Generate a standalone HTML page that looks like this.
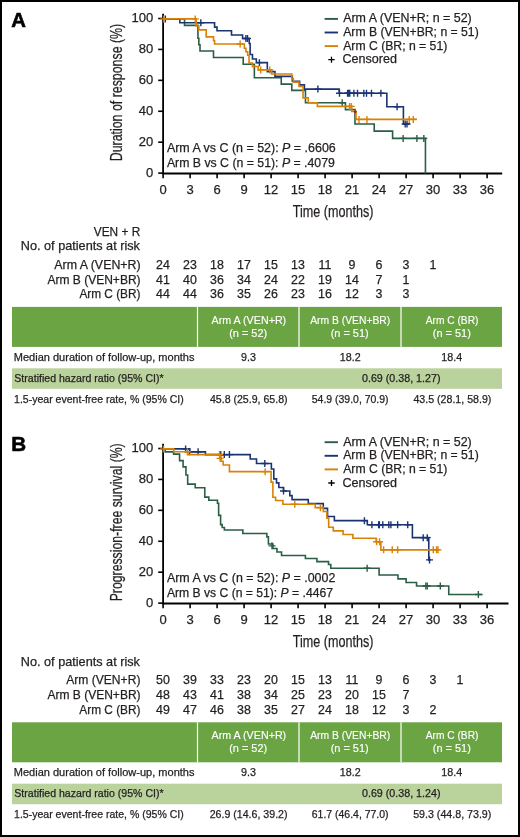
<!DOCTYPE html>
<html><head><meta charset="utf-8"><title>Figure</title>
<style>
html,body{margin:0;padding:0;background:#fff;}
body{width:520px;height:837px;overflow:hidden;}
svg{will-change:transform;display:block;font-family:"Liberation Sans", sans-serif;}
</style></head><body>
<svg width="520" height="837" viewBox="0 0 520 837" fill="#231f20">
<rect x="1" y="1" width="518" height="835" fill="#fff" stroke="#000" stroke-width="2"/>
<text x="11.20" y="27.20" font-size="20.3" stroke="#000" stroke-width="0.6" fill="#000" font-weight="bold">A</text>
<text x="11.20" y="451.30" font-size="20.6" stroke="#000" stroke-width="0.6" fill="#000" font-weight="bold">B</text>
<g transform="translate(0,0)">
<text transform="translate(122.2,161.30) rotate(-90)" font-size="16.8" stroke="#231f20" stroke-width="0.25" textLength="137.5" lengthAdjust="spacingAndGlyphs">Duration of response (%)</text>
<line x1="158.2" y1="173.10" x2="163.1" y2="173.10" stroke="#000" stroke-width="1.6"/>
<text x="153.30" y="176.70" font-size="13" stroke="#231f20" stroke-width="0.25" text-anchor="end">0</text>
<line x1="158.2" y1="142.18" x2="163.1" y2="142.18" stroke="#000" stroke-width="1.6"/>
<text x="153.30" y="145.78" font-size="13" stroke="#231f20" stroke-width="0.25" text-anchor="end">20</text>
<line x1="158.2" y1="111.26" x2="163.1" y2="111.26" stroke="#000" stroke-width="1.6"/>
<text x="153.30" y="114.86" font-size="13" stroke="#231f20" stroke-width="0.25" text-anchor="end">40</text>
<line x1="158.2" y1="80.34" x2="163.1" y2="80.34" stroke="#000" stroke-width="1.6"/>
<text x="153.30" y="83.94" font-size="13" stroke="#231f20" stroke-width="0.25" text-anchor="end">60</text>
<line x1="158.2" y1="49.42" x2="163.1" y2="49.42" stroke="#000" stroke-width="1.6"/>
<text x="153.30" y="53.02" font-size="13" stroke="#231f20" stroke-width="0.25" text-anchor="end">80</text>
<line x1="158.2" y1="18.50" x2="163.1" y2="18.50" stroke="#000" stroke-width="1.6"/>
<text x="153.30" y="22.10" font-size="13" stroke="#231f20" stroke-width="0.25" text-anchor="end">100</text>
<line x1="163.10" y1="173.5" x2="163.10" y2="178.2" stroke="#000" stroke-width="1.6"/>
<text x="163.10" y="194.40" font-size="13" stroke="#231f20" stroke-width="0.25" text-anchor="middle">0</text>
<line x1="190.10" y1="173.5" x2="190.10" y2="178.2" stroke="#000" stroke-width="1.6"/>
<text x="190.10" y="194.40" font-size="13" stroke="#231f20" stroke-width="0.25" text-anchor="middle">3</text>
<line x1="217.10" y1="173.5" x2="217.10" y2="178.2" stroke="#000" stroke-width="1.6"/>
<text x="217.10" y="194.40" font-size="13" stroke="#231f20" stroke-width="0.25" text-anchor="middle">6</text>
<line x1="244.10" y1="173.5" x2="244.10" y2="178.2" stroke="#000" stroke-width="1.6"/>
<text x="244.10" y="194.40" font-size="13" stroke="#231f20" stroke-width="0.25" text-anchor="middle">9</text>
<line x1="271.10" y1="173.5" x2="271.10" y2="178.2" stroke="#000" stroke-width="1.6"/>
<text x="271.10" y="194.40" font-size="13" stroke="#231f20" stroke-width="0.25" text-anchor="middle">12</text>
<line x1="298.10" y1="173.5" x2="298.10" y2="178.2" stroke="#000" stroke-width="1.6"/>
<text x="298.10" y="194.40" font-size="13" stroke="#231f20" stroke-width="0.25" text-anchor="middle">15</text>
<line x1="325.10" y1="173.5" x2="325.10" y2="178.2" stroke="#000" stroke-width="1.6"/>
<text x="325.10" y="194.40" font-size="13" stroke="#231f20" stroke-width="0.25" text-anchor="middle">18</text>
<line x1="352.10" y1="173.5" x2="352.10" y2="178.2" stroke="#000" stroke-width="1.6"/>
<text x="352.10" y="194.40" font-size="13" stroke="#231f20" stroke-width="0.25" text-anchor="middle">21</text>
<line x1="379.10" y1="173.5" x2="379.10" y2="178.2" stroke="#000" stroke-width="1.6"/>
<text x="379.10" y="194.40" font-size="13" stroke="#231f20" stroke-width="0.25" text-anchor="middle">24</text>
<line x1="406.10" y1="173.5" x2="406.10" y2="178.2" stroke="#000" stroke-width="1.6"/>
<text x="406.10" y="194.40" font-size="13" stroke="#231f20" stroke-width="0.25" text-anchor="middle">27</text>
<line x1="433.10" y1="173.5" x2="433.10" y2="178.2" stroke="#000" stroke-width="1.6"/>
<text x="433.10" y="194.40" font-size="13" stroke="#231f20" stroke-width="0.25" text-anchor="middle">30</text>
<line x1="460.10" y1="173.5" x2="460.10" y2="178.2" stroke="#000" stroke-width="1.6"/>
<text x="460.10" y="194.40" font-size="13" stroke="#231f20" stroke-width="0.25" text-anchor="middle">33</text>
<line x1="487.10" y1="173.5" x2="487.10" y2="178.2" stroke="#000" stroke-width="1.6"/>
<text x="487.10" y="194.40" font-size="13" stroke="#231f20" stroke-width="0.25" text-anchor="middle">36</text>
<text x="292.72" y="216.80" font-size="16.7" textLength="80.68" lengthAdjust="spacingAndGlyphs" stroke="#231f20" stroke-width="0.25">Time (months)</text>
<path d="M163.1,13.8V173.5H502.2" fill="none" stroke="#000" stroke-width="1.8"/>
<g transform="translate(0,0.4)">
<path d="M163.10,18.50H184.52V24.99H197.93V37.82H198.83V44.32H200.00V50.66H213.50V57.15H243.20V63.80H254.36V77.40H281.27V83.74H291.80V89.93H305.48V102.29H345.44V109.25H354.98V123.63H374.24V130.74H392.60V138.01H425.45V173.10" fill="none" stroke="#2a5e45" stroke-width="1.6"/>
<path d="M338.70,102.29H345.70M342.20,98.79V105.79" stroke="#2a5e45" stroke-width="1.4"/>
<path d="M399.63,138.01H406.63M403.13,134.51V141.51" stroke="#2a5e45" stroke-width="1.4"/>
<path d="M413.40,138.01H420.40M416.90,134.51V141.51" stroke="#2a5e45" stroke-width="1.4"/>
<path d="M420.33,138.01H427.33M423.83,134.51V141.51" stroke="#2a5e45" stroke-width="1.4"/>
<path d="M163.10,18.50H179.84V22.36H214.58V26.69H217.01V30.40H231.50V34.58H242.57V38.13H249.23V43.08H250.13V54.06H252.47V58.54H256.34V62.25H267.32V71.22H274.97V76.01H292.34V80.80H299.63V84.51H304.40V88.69H339.14V92.86H386.84V106.31H403.40V123.63H409.70" fill="none" stroke="#1a3473" stroke-width="1.6"/>
<path d="M161.85,18.50H168.85M165.35,15.00V22.00" stroke="#1a3473" stroke-width="1.4"/>
<path d="M197.31,22.36H204.31M200.81,18.86V25.86" stroke="#1a3473" stroke-width="1.4"/>
<path d="M242.40,38.13H249.40M245.90,34.63V41.63" stroke="#1a3473" stroke-width="1.4"/>
<path d="M244.02,38.13H251.02M247.52,34.63V41.63" stroke="#1a3473" stroke-width="1.4"/>
<path d="M255.90,62.25H262.90M259.40,58.75V65.75" stroke="#1a3473" stroke-width="1.4"/>
<path d="M314.40,88.69H321.40M317.90,85.19V92.19" stroke="#1a3473" stroke-width="1.4"/>
<path d="M336.00,92.86H343.00M339.50,89.36V96.36" stroke="#1a3473" stroke-width="1.4"/>
<path d="M344.10,92.86H351.10M347.60,89.36V96.36" stroke="#1a3473" stroke-width="1.4"/>
<path d="M345.18,92.86H352.18M348.68,89.36V96.36" stroke="#1a3473" stroke-width="1.4"/>
<path d="M346.26,92.86H353.26M349.76,89.36V96.36" stroke="#1a3473" stroke-width="1.4"/>
<path d="M350.40,92.86H357.40M353.90,89.36V96.36" stroke="#1a3473" stroke-width="1.4"/>
<path d="M354.00,92.86H361.00M357.50,89.36V96.36" stroke="#1a3473" stroke-width="1.4"/>
<path d="M360.30,92.86H367.30M363.80,89.36V96.36" stroke="#1a3473" stroke-width="1.4"/>
<path d="M363.00,92.86H370.00M366.50,89.36V96.36" stroke="#1a3473" stroke-width="1.4"/>
<path d="M367.95,92.86H374.95M371.45,89.36V96.36" stroke="#1a3473" stroke-width="1.4"/>
<path d="M377.40,92.86H384.40M380.90,89.36V96.36" stroke="#1a3473" stroke-width="1.4"/>
<path d="M393.60,106.31H400.60M397.10,102.81V109.81" stroke="#1a3473" stroke-width="1.4"/>
<path d="M401.70,123.63H408.70M405.20,120.13V127.13" stroke="#1a3473" stroke-width="1.4"/>
<path d="M403.50,123.63H410.50M407.00,120.13V127.13" stroke="#1a3473" stroke-width="1.4"/>
<path d="M163.10,18.50H196.22V25.53H198.83V29.48H206.21V36.43H213.50V40.14H214.58V43.55H244.37V47.87H245.90V51.28H247.70V54.83H249.05V62.72H252.47V66.12H258.23V69.52H271.55V73.54H291.80V78.33H293.33V81.73H299.00V86.06H303.05V97.50H308.27V102.29H317.36V106.00H351.74V111.11H355.97V118.99H416.90" fill="none" stroke="#d98105" stroke-width="1.6"/>
<path d="M160.32,18.50H167.32M163.82,15.00V22.00" stroke="#d98105" stroke-width="1.4"/>
<path d="M191.73,18.50H198.73M195.23,15.00V22.00" stroke="#d98105" stroke-width="1.4"/>
<path d="M236.64,43.55H243.64M240.14,40.05V47.05" stroke="#d98105" stroke-width="1.4"/>
<path d="M257.25,69.52H264.25M260.75,66.02V73.02" stroke="#d98105" stroke-width="1.4"/>
<path d="M266.25,69.52H273.25M269.75,66.02V73.02" stroke="#d98105" stroke-width="1.4"/>
<path d="M346.08,106.00H353.08M349.58,102.50V109.50" stroke="#d98105" stroke-width="1.4"/>
<path d="M347.70,106.00H354.70M351.20,102.50V109.50" stroke="#d98105" stroke-width="1.4"/>
<path d="M355.53,118.99H362.53M359.03,115.49V122.49" stroke="#d98105" stroke-width="1.4"/>
<path d="M363.45,118.99H370.45M366.95,115.49V122.49" stroke="#d98105" stroke-width="1.4"/>
<path d="M405.75,118.99H412.75M409.25,115.49V122.49" stroke="#d98105" stroke-width="1.4"/>
<path d="M409.80,118.99H416.80M413.30,115.49V122.49" stroke="#d98105" stroke-width="1.4"/>
</g>
<path d="M355.3,109.9L357,111.7L355.3,113.5L353.6,111.7Z" fill="#b01c2e"/>
</g>
<text x="166.90" y="151.80" font-size="12.5" textLength="168.84" lengthAdjust="spacingAndGlyphs" stroke="#231f20" stroke-width="0.25">Arm A vs C (n = 52): <tspan font-style="italic">P</tspan> = .6606</text>
<text x="166.90" y="166.70" font-size="12.5" textLength="167.96" lengthAdjust="spacingAndGlyphs" stroke="#231f20" stroke-width="0.25">Arm B vs C (n = 51): <tspan font-style="italic">P</tspan> = .4079</text>
<line x1="324.6" y1="18.90" x2="338" y2="18.90" stroke="#2a5e45" stroke-width="1.9"/>
<text x="343.20" y="22.40" font-size="12.5" textLength="128.51" lengthAdjust="spacingAndGlyphs" stroke="#231f20" stroke-width="0.25">Arm A (VEN+R; n = 52)</text>
<line x1="324.6" y1="32.50" x2="338" y2="32.50" stroke="#1a3473" stroke-width="1.9"/>
<text x="343.20" y="36.00" font-size="12.5" textLength="135.51" lengthAdjust="spacingAndGlyphs" stroke="#231f20" stroke-width="0.25">Arm B (VEN+BR; n = 51)</text>
<line x1="324.6" y1="46.10" x2="338" y2="46.10" stroke="#d98105" stroke-width="1.9"/>
<text x="343.20" y="49.60" font-size="12.5" textLength="104.05" lengthAdjust="spacingAndGlyphs" stroke="#231f20" stroke-width="0.25">Arm C (BR; n = 51)</text>
<path d="M328.3,59.70H334.7M331.5,56.70V62.70" stroke="#000" stroke-width="1.3"/>
<text x="342.45" y="63.20" font-size="12.5" textLength="54.46" lengthAdjust="spacingAndGlyphs" stroke="#231f20" stroke-width="0.25">Censored</text>
<g transform="translate(0,430)">
<text transform="translate(122.2,171.30) rotate(-90)" font-size="16.8" stroke="#231f20" stroke-width="0.25" textLength="158.0" lengthAdjust="spacingAndGlyphs">Progression-free survival (%)</text>
<line x1="158.2" y1="173.10" x2="163.1" y2="173.10" stroke="#000" stroke-width="1.6"/>
<text x="153.30" y="176.70" font-size="13" stroke="#231f20" stroke-width="0.25" text-anchor="end">0</text>
<line x1="158.2" y1="142.18" x2="163.1" y2="142.18" stroke="#000" stroke-width="1.6"/>
<text x="153.30" y="145.78" font-size="13" stroke="#231f20" stroke-width="0.25" text-anchor="end">20</text>
<line x1="158.2" y1="111.26" x2="163.1" y2="111.26" stroke="#000" stroke-width="1.6"/>
<text x="153.30" y="114.86" font-size="13" stroke="#231f20" stroke-width="0.25" text-anchor="end">40</text>
<line x1="158.2" y1="80.34" x2="163.1" y2="80.34" stroke="#000" stroke-width="1.6"/>
<text x="153.30" y="83.94" font-size="13" stroke="#231f20" stroke-width="0.25" text-anchor="end">60</text>
<line x1="158.2" y1="49.42" x2="163.1" y2="49.42" stroke="#000" stroke-width="1.6"/>
<text x="153.30" y="53.02" font-size="13" stroke="#231f20" stroke-width="0.25" text-anchor="end">80</text>
<line x1="158.2" y1="18.50" x2="163.1" y2="18.50" stroke="#000" stroke-width="1.6"/>
<text x="153.30" y="22.10" font-size="13" stroke="#231f20" stroke-width="0.25" text-anchor="end">100</text>
<line x1="163.10" y1="173.5" x2="163.10" y2="178.2" stroke="#000" stroke-width="1.6"/>
<text x="163.10" y="194.40" font-size="13" stroke="#231f20" stroke-width="0.25" text-anchor="middle">0</text>
<line x1="190.10" y1="173.5" x2="190.10" y2="178.2" stroke="#000" stroke-width="1.6"/>
<text x="190.10" y="194.40" font-size="13" stroke="#231f20" stroke-width="0.25" text-anchor="middle">3</text>
<line x1="217.10" y1="173.5" x2="217.10" y2="178.2" stroke="#000" stroke-width="1.6"/>
<text x="217.10" y="194.40" font-size="13" stroke="#231f20" stroke-width="0.25" text-anchor="middle">6</text>
<line x1="244.10" y1="173.5" x2="244.10" y2="178.2" stroke="#000" stroke-width="1.6"/>
<text x="244.10" y="194.40" font-size="13" stroke="#231f20" stroke-width="0.25" text-anchor="middle">9</text>
<line x1="271.10" y1="173.5" x2="271.10" y2="178.2" stroke="#000" stroke-width="1.6"/>
<text x="271.10" y="194.40" font-size="13" stroke="#231f20" stroke-width="0.25" text-anchor="middle">12</text>
<line x1="298.10" y1="173.5" x2="298.10" y2="178.2" stroke="#000" stroke-width="1.6"/>
<text x="298.10" y="194.40" font-size="13" stroke="#231f20" stroke-width="0.25" text-anchor="middle">15</text>
<line x1="325.10" y1="173.5" x2="325.10" y2="178.2" stroke="#000" stroke-width="1.6"/>
<text x="325.10" y="194.40" font-size="13" stroke="#231f20" stroke-width="0.25" text-anchor="middle">18</text>
<line x1="352.10" y1="173.5" x2="352.10" y2="178.2" stroke="#000" stroke-width="1.6"/>
<text x="352.10" y="194.40" font-size="13" stroke="#231f20" stroke-width="0.25" text-anchor="middle">21</text>
<line x1="379.10" y1="173.5" x2="379.10" y2="178.2" stroke="#000" stroke-width="1.6"/>
<text x="379.10" y="194.40" font-size="13" stroke="#231f20" stroke-width="0.25" text-anchor="middle">24</text>
<line x1="406.10" y1="173.5" x2="406.10" y2="178.2" stroke="#000" stroke-width="1.6"/>
<text x="406.10" y="194.40" font-size="13" stroke="#231f20" stroke-width="0.25" text-anchor="middle">27</text>
<line x1="433.10" y1="173.5" x2="433.10" y2="178.2" stroke="#000" stroke-width="1.6"/>
<text x="433.10" y="194.40" font-size="13" stroke="#231f20" stroke-width="0.25" text-anchor="middle">30</text>
<line x1="460.10" y1="173.5" x2="460.10" y2="178.2" stroke="#000" stroke-width="1.6"/>
<text x="460.10" y="194.40" font-size="13" stroke="#231f20" stroke-width="0.25" text-anchor="middle">33</text>
<line x1="487.10" y1="173.5" x2="487.10" y2="178.2" stroke="#000" stroke-width="1.6"/>
<text x="487.10" y="194.40" font-size="13" stroke="#231f20" stroke-width="0.25" text-anchor="middle">36</text>
<text x="292.72" y="216.80" font-size="16.7" textLength="80.68" lengthAdjust="spacingAndGlyphs" stroke="#231f20" stroke-width="0.25">Time (months)</text>
<path d="M163.1,13.8V173.5H508.5" fill="none" stroke="#000" stroke-width="1.8"/>
<g transform="translate(0,0.4)">
<path d="M163.10,18.50H165.17V21.44H173.63V23.76H179.57V30.25H183.08V36.43H185.96V44.63H187.67V53.75H195.23V57.30H204.77V66.74H208.82V69.83H217.46V72.92H218.63V84.98H220.61V94.25H222.14V97.04H224.39V99.66H242.84V103.07H266.87V106.47H268.40V113.58H272.90V118.06H276.95V121.62H281.54V125.17H305.39V128.11H316.91V131.20H328.52V134.14H330.77V137.85H379.10V144.65H398.00V148.52H406.10V152.07H416.54V155.63H448.76V164.13H482.60" fill="none" stroke="#2a5e45" stroke-width="1.6"/>
<path d="M268.50,115.43H275.50M272.00,111.93V118.93" stroke="#2a5e45" stroke-width="1.4"/>
<path d="M363.63,137.85H370.63M367.13,134.35V141.35" stroke="#2a5e45" stroke-width="1.4"/>
<path d="M422.40,155.63H429.40M425.90,152.13V159.13" stroke="#2a5e45" stroke-width="1.4"/>
<path d="M423.75,155.63H430.75M427.25,152.13V159.13" stroke="#2a5e45" stroke-width="1.4"/>
<path d="M436.80,155.63H443.80M440.30,152.13V159.13" stroke="#2a5e45" stroke-width="1.4"/>
<path d="M474.87,164.13H481.87M478.37,160.63V167.63" stroke="#2a5e45" stroke-width="1.4"/>
<path d="M163.10,18.50H189.65V21.44H205.40V24.22H250.22V28.55H256.52V33.03H271.37V38.60H273.80V48.49H276.50V52.51H278.84V57.15H283.52V60.55H289.82V65.19H292.07V69.21H308.27V73.23H323.30V78.02H327.53V86.06H334.37V90.23H367.31V94.41H412.40V107.24H428.78V129.50H430.85" fill="none" stroke="#1a3473" stroke-width="1.6"/>
<path d="M182.10,18.50H189.10M185.60,15.00V22.00" stroke="#1a3473" stroke-width="1.4"/>
<path d="M186.15,21.44H193.15M189.65,17.94V24.94" stroke="#1a3473" stroke-width="1.4"/>
<path d="M194.61,21.44H201.61M198.11,17.94V24.94" stroke="#1a3473" stroke-width="1.4"/>
<path d="M217.20,24.22H224.20M220.70,20.72V27.72" stroke="#1a3473" stroke-width="1.4"/>
<path d="M220.80,24.22H227.80M224.30,20.72V27.72" stroke="#1a3473" stroke-width="1.4"/>
<path d="M225.93,24.22H232.93M229.43,20.72V27.72" stroke="#1a3473" stroke-width="1.4"/>
<path d="M261.30,33.03H268.30M264.80,29.53V36.53" stroke="#1a3473" stroke-width="1.4"/>
<path d="M280.02,60.55H287.02M283.52,57.05V64.05" stroke="#1a3473" stroke-width="1.4"/>
<path d="M360.93,90.23H367.93M364.43,86.73V93.73" stroke="#1a3473" stroke-width="1.4"/>
<path d="M368.40,94.41H375.40M371.90,90.91V97.91" stroke="#1a3473" stroke-width="1.4"/>
<path d="M375.15,94.41H382.15M378.65,90.91V97.91" stroke="#1a3473" stroke-width="1.4"/>
<path d="M375.87,94.41H382.87M379.37,90.91V97.91" stroke="#1a3473" stroke-width="1.4"/>
<path d="M379.29,94.41H386.29M382.79,90.91V97.91" stroke="#1a3473" stroke-width="1.4"/>
<path d="M385.32,94.41H392.32M388.82,90.91V97.91" stroke="#1a3473" stroke-width="1.4"/>
<path d="M387.39,94.41H394.39M390.89,90.91V97.91" stroke="#1a3473" stroke-width="1.4"/>
<path d="M394.14,94.41H401.14M397.64,90.91V97.91" stroke="#1a3473" stroke-width="1.4"/>
<path d="M404.22,94.41H411.22M407.72,90.91V97.91" stroke="#1a3473" stroke-width="1.4"/>
<path d="M419.70,107.24H426.70M423.20,103.74V110.74" stroke="#1a3473" stroke-width="1.4"/>
<path d="M423.75,107.24H430.75M427.25,103.74V110.74" stroke="#1a3473" stroke-width="1.4"/>
<path d="M426.00,129.50H433.00M429.50,126.00V133.00" stroke="#1a3473" stroke-width="1.4"/>
<path d="M163.10,18.50H173.81V21.28H187.85V24.22H220.07V27.93H221.15V30.87H223.13V34.58H229.43V41.23H271.10V51.74H272.90V66.89H275.60V70.14H282.89V73.85H315.20V77.25H323.30V81.11H326.90V87.76H328.70V96.88H333.29V100.44H343.10V104.15H352.91V107.86H376.13V111.41H380.90V119.45H438.50" fill="none" stroke="#d98105" stroke-width="1.6"/>
<path d="M160.05,18.50H167.05M163.55,15.00V22.00" stroke="#d98105" stroke-width="1.4"/>
<path d="M183.90,21.28H190.90M187.40,17.78V24.78" stroke="#d98105" stroke-width="1.4"/>
<path d="M216.03,24.22H223.03M219.53,20.72V27.72" stroke="#d98105" stroke-width="1.4"/>
<path d="M216.57,27.93H223.57M220.07,24.43V31.43" stroke="#d98105" stroke-width="1.4"/>
<path d="M261.66,41.23H268.66M265.16,37.73V44.73" stroke="#d98105" stroke-width="1.4"/>
<path d="M291.27,73.85H298.27M294.77,70.35V77.35" stroke="#d98105" stroke-width="1.4"/>
<path d="M316.92,77.25H323.92M320.42,73.75V80.75" stroke="#d98105" stroke-width="1.4"/>
<path d="M373.08,111.41H380.08M376.58,107.91V114.91" stroke="#d98105" stroke-width="1.4"/>
<path d="M376.05,111.41H383.05M379.55,107.91V114.91" stroke="#d98105" stroke-width="1.4"/>
<path d="M380.10,119.45H387.10M383.60,115.95V122.95" stroke="#d98105" stroke-width="1.4"/>
<path d="M388.74,119.45H395.74M392.24,115.95V122.95" stroke="#d98105" stroke-width="1.4"/>
<path d="M394.14,119.45H401.14M397.64,115.95V122.95" stroke="#d98105" stroke-width="1.4"/>
<path d="M429.78,119.45H436.78M433.28,115.95V122.95" stroke="#d98105" stroke-width="1.4"/>
<path d="M433.11,119.45H440.11M436.61,115.95V122.95" stroke="#d98105" stroke-width="1.4"/>
<path d="M434.46,119.45H441.46M437.96,115.95V122.95" stroke="#d98105" stroke-width="1.4"/>
</g>
</g>
<text x="166.90" y="581.80" font-size="12.5" textLength="168.44" lengthAdjust="spacingAndGlyphs" stroke="#231f20" stroke-width="0.25">Arm A vs C (n = 52): <tspan font-style="italic">P</tspan> = .0002</text>
<text x="166.90" y="596.70" font-size="12.5" textLength="166.05" lengthAdjust="spacingAndGlyphs" stroke="#231f20" stroke-width="0.25">Arm B vs C (n = 51): <tspan font-style="italic">P</tspan> = .4467</text>
<line x1="324.6" y1="442.20" x2="338" y2="442.20" stroke="#2a5e45" stroke-width="1.9"/>
<text x="343.20" y="445.70" font-size="12.5" textLength="128.51" lengthAdjust="spacingAndGlyphs" stroke="#231f20" stroke-width="0.25">Arm A (VEN+R; n = 52)</text>
<line x1="324.6" y1="455.80" x2="338" y2="455.80" stroke="#1a3473" stroke-width="1.9"/>
<text x="343.20" y="459.30" font-size="12.5" textLength="135.51" lengthAdjust="spacingAndGlyphs" stroke="#231f20" stroke-width="0.25">Arm B (VEN+BR; n = 51)</text>
<line x1="324.6" y1="469.40" x2="338" y2="469.40" stroke="#d98105" stroke-width="1.9"/>
<text x="343.20" y="472.90" font-size="12.5" textLength="104.05" lengthAdjust="spacingAndGlyphs" stroke="#231f20" stroke-width="0.25">Arm C (BR; n = 51)</text>
<path d="M328.3,483.00H334.7M331.5,480.00V486.00" stroke="#000" stroke-width="1.3"/>
<text x="342.45" y="486.50" font-size="12.5" textLength="54.46" lengthAdjust="spacingAndGlyphs" stroke="#231f20" stroke-width="0.25">Censored</text>
<text x="93.80" y="235.50" font-size="12.4" textLength="46.42" lengthAdjust="spacingAndGlyphs" stroke="#231f20" stroke-width="0.25">VEN + R</text>
<text x="20.78" y="250.20" font-size="12.4" textLength="119.17" lengthAdjust="spacingAndGlyphs" stroke="#231f20" stroke-width="0.25">No. of patients at risk</text>
<text x="54.30" y="268.80" font-size="12.5" textLength="86.31" lengthAdjust="spacingAndGlyphs" stroke="#231f20" stroke-width="0.25">Arm A (VEN+R)</text>
<text x="163.00" y="268.80" font-size="12.4" stroke="#231f20" stroke-width="0.25" text-anchor="middle">24</text>
<text x="190.00" y="268.80" font-size="12.4" stroke="#231f20" stroke-width="0.25" text-anchor="middle">23</text>
<text x="217.00" y="268.80" font-size="12.4" stroke="#231f20" stroke-width="0.25" text-anchor="middle">18</text>
<text x="244.00" y="268.80" font-size="12.4" stroke="#231f20" stroke-width="0.25" text-anchor="middle">17</text>
<text x="271.00" y="268.80" font-size="12.4" stroke="#231f20" stroke-width="0.25" text-anchor="middle">15</text>
<text x="298.00" y="268.80" font-size="12.4" stroke="#231f20" stroke-width="0.25" text-anchor="middle">13</text>
<text x="325.00" y="268.80" font-size="12.4" stroke="#231f20" stroke-width="0.25" text-anchor="middle">11</text>
<text x="352.00" y="268.80" font-size="12.4" stroke="#231f20" stroke-width="0.25" text-anchor="middle">9</text>
<text x="379.00" y="268.80" font-size="12.4" stroke="#231f20" stroke-width="0.25" text-anchor="middle">6</text>
<text x="406.00" y="268.80" font-size="12.4" stroke="#231f20" stroke-width="0.25" text-anchor="middle">3</text>
<text x="433.00" y="268.80" font-size="12.4" stroke="#231f20" stroke-width="0.25" text-anchor="middle">1</text>
<text x="47.50" y="283.60" font-size="12.5" textLength="93.06" lengthAdjust="spacingAndGlyphs" stroke="#231f20" stroke-width="0.25">Arm B (VEN+BR)</text>
<text x="163.00" y="283.60" font-size="12.4" stroke="#231f20" stroke-width="0.25" text-anchor="middle">41</text>
<text x="190.00" y="283.60" font-size="12.4" stroke="#231f20" stroke-width="0.25" text-anchor="middle">40</text>
<text x="217.00" y="283.60" font-size="12.4" stroke="#231f20" stroke-width="0.25" text-anchor="middle">36</text>
<text x="244.00" y="283.60" font-size="12.4" stroke="#231f20" stroke-width="0.25" text-anchor="middle">34</text>
<text x="271.00" y="283.60" font-size="12.4" stroke="#231f20" stroke-width="0.25" text-anchor="middle">24</text>
<text x="298.00" y="283.60" font-size="12.4" stroke="#231f20" stroke-width="0.25" text-anchor="middle">22</text>
<text x="325.00" y="283.60" font-size="12.4" stroke="#231f20" stroke-width="0.25" text-anchor="middle">19</text>
<text x="352.00" y="283.60" font-size="12.4" stroke="#231f20" stroke-width="0.25" text-anchor="middle">14</text>
<text x="379.00" y="283.60" font-size="12.4" stroke="#231f20" stroke-width="0.25" text-anchor="middle">7</text>
<text x="406.00" y="283.60" font-size="12.4" stroke="#231f20" stroke-width="0.25" text-anchor="middle">1</text>
<text x="79.40" y="298.40" font-size="12.5" textLength="61.08" lengthAdjust="spacingAndGlyphs" stroke="#231f20" stroke-width="0.25">Arm C (BR)</text>
<text x="163.00" y="298.40" font-size="12.4" stroke="#231f20" stroke-width="0.25" text-anchor="middle">44</text>
<text x="190.00" y="298.40" font-size="12.4" stroke="#231f20" stroke-width="0.25" text-anchor="middle">44</text>
<text x="217.00" y="298.40" font-size="12.4" stroke="#231f20" stroke-width="0.25" text-anchor="middle">36</text>
<text x="244.00" y="298.40" font-size="12.4" stroke="#231f20" stroke-width="0.25" text-anchor="middle">35</text>
<text x="271.00" y="298.40" font-size="12.4" stroke="#231f20" stroke-width="0.25" text-anchor="middle">26</text>
<text x="298.00" y="298.40" font-size="12.4" stroke="#231f20" stroke-width="0.25" text-anchor="middle">23</text>
<text x="325.00" y="298.40" font-size="12.4" stroke="#231f20" stroke-width="0.25" text-anchor="middle">16</text>
<text x="352.00" y="298.40" font-size="12.4" stroke="#231f20" stroke-width="0.25" text-anchor="middle">12</text>
<text x="379.00" y="298.40" font-size="12.4" stroke="#231f20" stroke-width="0.25" text-anchor="middle">3</text>
<text x="406.00" y="298.40" font-size="12.4" stroke="#231f20" stroke-width="0.25" text-anchor="middle">3</text>
<text x="20.78" y="666.10" font-size="12.4" textLength="119.17" lengthAdjust="spacingAndGlyphs" stroke="#231f20" stroke-width="0.25">No. of patients at risk</text>
<text x="66.20" y="684.00" font-size="12.5" textLength="74.23" lengthAdjust="spacingAndGlyphs" stroke="#231f20" stroke-width="0.25">Arm (VEN+R)</text>
<text x="163.00" y="684.00" font-size="12.4" stroke="#231f20" stroke-width="0.25" text-anchor="middle">50</text>
<text x="190.00" y="684.00" font-size="12.4" stroke="#231f20" stroke-width="0.25" text-anchor="middle">39</text>
<text x="217.00" y="684.00" font-size="12.4" stroke="#231f20" stroke-width="0.25" text-anchor="middle">33</text>
<text x="244.00" y="684.00" font-size="12.4" stroke="#231f20" stroke-width="0.25" text-anchor="middle">23</text>
<text x="271.00" y="684.00" font-size="12.4" stroke="#231f20" stroke-width="0.25" text-anchor="middle">20</text>
<text x="298.00" y="684.00" font-size="12.4" stroke="#231f20" stroke-width="0.25" text-anchor="middle">15</text>
<text x="325.00" y="684.00" font-size="12.4" stroke="#231f20" stroke-width="0.25" text-anchor="middle">13</text>
<text x="352.00" y="684.00" font-size="12.4" stroke="#231f20" stroke-width="0.25" text-anchor="middle">11</text>
<text x="379.00" y="684.00" font-size="12.4" stroke="#231f20" stroke-width="0.25" text-anchor="middle">9</text>
<text x="406.00" y="684.00" font-size="12.4" stroke="#231f20" stroke-width="0.25" text-anchor="middle">6</text>
<text x="433.00" y="684.00" font-size="12.4" stroke="#231f20" stroke-width="0.25" text-anchor="middle">3</text>
<text x="460.00" y="684.00" font-size="12.4" stroke="#231f20" stroke-width="0.25" text-anchor="middle">1</text>
<text x="47.50" y="698.80" font-size="12.5" textLength="93.06" lengthAdjust="spacingAndGlyphs" stroke="#231f20" stroke-width="0.25">Arm B (VEN+BR)</text>
<text x="163.00" y="698.80" font-size="12.4" stroke="#231f20" stroke-width="0.25" text-anchor="middle">48</text>
<text x="190.00" y="698.80" font-size="12.4" stroke="#231f20" stroke-width="0.25" text-anchor="middle">43</text>
<text x="217.00" y="698.80" font-size="12.4" stroke="#231f20" stroke-width="0.25" text-anchor="middle">41</text>
<text x="244.00" y="698.80" font-size="12.4" stroke="#231f20" stroke-width="0.25" text-anchor="middle">38</text>
<text x="271.00" y="698.80" font-size="12.4" stroke="#231f20" stroke-width="0.25" text-anchor="middle">34</text>
<text x="298.00" y="698.80" font-size="12.4" stroke="#231f20" stroke-width="0.25" text-anchor="middle">25</text>
<text x="325.00" y="698.80" font-size="12.4" stroke="#231f20" stroke-width="0.25" text-anchor="middle">23</text>
<text x="352.00" y="698.80" font-size="12.4" stroke="#231f20" stroke-width="0.25" text-anchor="middle">20</text>
<text x="379.00" y="698.80" font-size="12.4" stroke="#231f20" stroke-width="0.25" text-anchor="middle">15</text>
<text x="406.00" y="698.80" font-size="12.4" stroke="#231f20" stroke-width="0.25" text-anchor="middle">7</text>
<text x="79.30" y="713.60" font-size="12.5" textLength="61.18" lengthAdjust="spacingAndGlyphs" stroke="#231f20" stroke-width="0.25">Arm C (BR)</text>
<text x="163.00" y="713.60" font-size="12.4" stroke="#231f20" stroke-width="0.25" text-anchor="middle">49</text>
<text x="190.00" y="713.60" font-size="12.4" stroke="#231f20" stroke-width="0.25" text-anchor="middle">47</text>
<text x="217.00" y="713.60" font-size="12.4" stroke="#231f20" stroke-width="0.25" text-anchor="middle">46</text>
<text x="244.00" y="713.60" font-size="12.4" stroke="#231f20" stroke-width="0.25" text-anchor="middle">38</text>
<text x="271.00" y="713.60" font-size="12.4" stroke="#231f20" stroke-width="0.25" text-anchor="middle">35</text>
<text x="298.00" y="713.60" font-size="12.4" stroke="#231f20" stroke-width="0.25" text-anchor="middle">27</text>
<text x="325.00" y="713.60" font-size="12.4" stroke="#231f20" stroke-width="0.25" text-anchor="middle">24</text>
<text x="352.00" y="713.60" font-size="12.4" stroke="#231f20" stroke-width="0.25" text-anchor="middle">18</text>
<text x="379.00" y="713.60" font-size="12.4" stroke="#231f20" stroke-width="0.25" text-anchor="middle">12</text>
<text x="406.00" y="713.60" font-size="12.4" stroke="#231f20" stroke-width="0.25" text-anchor="middle">3</text>
<text x="433.00" y="713.60" font-size="12.4" stroke="#231f20" stroke-width="0.25" text-anchor="middle">2</text>
<g transform="translate(0,0)">
<rect x="12" y="306.9" width="490" height="40" fill="#6aa443"/>
<rect x="196.90" y="306.9" width="1.2" height="40" fill="#fff"/>
<rect x="298.40" y="306.9" width="1.2" height="40" fill="#fff"/>
<rect x="400.40" y="306.9" width="1.2" height="40" fill="#fff"/>
<rect x="12" y="368.3" width="490" height="20.5" fill="#bad29c"/>
</g>
<text x="211.50" y="323.90" font-size="11.0" textLength="74.70" lengthAdjust="spacingAndGlyphs" stroke="#fff" stroke-width="0.15" fill="#fff">Arm A (VEN+R)</text>
<text x="229.15" y="336.50" font-size="11.0" textLength="38.06" lengthAdjust="spacingAndGlyphs" stroke="#fff" stroke-width="0.15" fill="#fff">(n = 52)</text>
<text x="310.20" y="323.90" font-size="11.0" textLength="80.08" lengthAdjust="spacingAndGlyphs" stroke="#fff" stroke-width="0.15" fill="#fff">Arm B (VEN+BR)</text>
<text x="330.65" y="336.50" font-size="11.0" textLength="38.06" lengthAdjust="spacingAndGlyphs" stroke="#fff" stroke-width="0.15" fill="#fff">(n = 51)</text>
<text x="425.70" y="323.90" font-size="11.0" textLength="52.74" lengthAdjust="spacingAndGlyphs" stroke="#fff" stroke-width="0.15" fill="#fff">Arm C (BR)</text>
<text x="432.75" y="336.50" font-size="11.0" textLength="38.06" lengthAdjust="spacingAndGlyphs" stroke="#fff" stroke-width="0.15" fill="#fff">(n = 51)</text>
<text x="13.78" y="361.00" font-size="10.8" textLength="180.72" lengthAdjust="spacingAndGlyphs" stroke="#231f20" stroke-width="0.25">Median duration of follow-up, months</text>
<text x="14.31" y="382.00" font-size="10.8" textLength="149.36" lengthAdjust="spacingAndGlyphs" stroke="#231f20" stroke-width="0.25">Stratified hazard ratio (95% CI)*</text>
<text x="14.07" y="402.70" font-size="10.8" textLength="169.75" lengthAdjust="spacingAndGlyphs" stroke="#231f20" stroke-width="0.25">1.5-year event-free rate, % (95% CI)</text>
<text x="240.99" y="361.00" font-size="10.6" textLength="14.90" lengthAdjust="spacingAndGlyphs" stroke="#231f20" stroke-width="0.25">9.3</text>
<text x="339.84" y="361.00" font-size="10.6" textLength="20.84" lengthAdjust="spacingAndGlyphs" stroke="#231f20" stroke-width="0.25">18.2</text>
<text x="441.34" y="361.00" font-size="10.6" textLength="20.84" lengthAdjust="spacingAndGlyphs" stroke="#231f20" stroke-width="0.25">18.4</text>
<text x="362.00" y="382.00" font-size="10.6" textLength="78.46" lengthAdjust="spacingAndGlyphs" stroke="#231f20" stroke-width="0.25">0.69 (0.38, 1.27)</text>
<text x="209.95" y="402.70" font-size="10.6" textLength="77.60" lengthAdjust="spacingAndGlyphs" stroke="#231f20" stroke-width="0.25">45.8 (25.9, 65.8)</text>
<text x="311.81" y="402.70" font-size="10.6" textLength="76.73" lengthAdjust="spacingAndGlyphs" stroke="#231f20" stroke-width="0.25">54.9 (39.0, 70.9)</text>
<text x="413.45" y="402.70" font-size="10.6" textLength="77.90" lengthAdjust="spacingAndGlyphs" stroke="#231f20" stroke-width="0.25">43.5 (28.1, 58.9)</text>
<g transform="translate(0,415.4)">
<rect x="12" y="306.9" width="490" height="40" fill="#6aa443"/>
<rect x="196.90" y="306.9" width="1.2" height="40" fill="#fff"/>
<rect x="298.40" y="306.9" width="1.2" height="40" fill="#fff"/>
<rect x="400.40" y="306.9" width="1.2" height="40" fill="#fff"/>
<rect x="12" y="368.3" width="490" height="20.5" fill="#bad29c"/>
</g>
<text x="211.50" y="739.30" font-size="11.0" textLength="74.70" lengthAdjust="spacingAndGlyphs" stroke="#fff" stroke-width="0.15" fill="#fff">Arm A (VEN+R)</text>
<text x="229.15" y="751.90" font-size="11.0" textLength="38.06" lengthAdjust="spacingAndGlyphs" stroke="#fff" stroke-width="0.15" fill="#fff">(n = 52)</text>
<text x="310.20" y="739.30" font-size="11.0" textLength="80.08" lengthAdjust="spacingAndGlyphs" stroke="#fff" stroke-width="0.15" fill="#fff">Arm B (VEN+BR)</text>
<text x="330.65" y="751.90" font-size="11.0" textLength="38.06" lengthAdjust="spacingAndGlyphs" stroke="#fff" stroke-width="0.15" fill="#fff">(n = 51)</text>
<text x="425.70" y="739.30" font-size="11.0" textLength="52.74" lengthAdjust="spacingAndGlyphs" stroke="#fff" stroke-width="0.15" fill="#fff">Arm C (BR)</text>
<text x="432.75" y="751.90" font-size="11.0" textLength="38.06" lengthAdjust="spacingAndGlyphs" stroke="#fff" stroke-width="0.15" fill="#fff">(n = 51)</text>
<text x="13.78" y="776.40" font-size="10.8" textLength="180.72" lengthAdjust="spacingAndGlyphs" stroke="#231f20" stroke-width="0.25">Median duration of follow-up, months</text>
<text x="14.31" y="797.40" font-size="10.8" textLength="149.36" lengthAdjust="spacingAndGlyphs" stroke="#231f20" stroke-width="0.25">Stratified hazard ratio (95% CI)*</text>
<text x="14.07" y="818.10" font-size="10.8" textLength="169.75" lengthAdjust="spacingAndGlyphs" stroke="#231f20" stroke-width="0.25">1.5-year event-free rate, % (95% CI)</text>
<text x="240.99" y="776.40" font-size="10.6" textLength="14.90" lengthAdjust="spacingAndGlyphs" stroke="#231f20" stroke-width="0.25">9.3</text>
<text x="339.84" y="776.40" font-size="10.6" textLength="20.84" lengthAdjust="spacingAndGlyphs" stroke="#231f20" stroke-width="0.25">18.2</text>
<text x="441.34" y="776.40" font-size="10.6" textLength="20.84" lengthAdjust="spacingAndGlyphs" stroke="#231f20" stroke-width="0.25">18.4</text>
<text x="362.00" y="797.40" font-size="10.6" textLength="78.46" lengthAdjust="spacingAndGlyphs" stroke="#231f20" stroke-width="0.25">0.69 (0.38, 1.24)</text>
<text x="209.70" y="818.10" font-size="10.6" textLength="77.85" lengthAdjust="spacingAndGlyphs" stroke="#231f20" stroke-width="0.25">26.9 (14.6, 39.2)</text>
<text x="311.81" y="818.10" font-size="10.6" textLength="76.73" lengthAdjust="spacingAndGlyphs" stroke="#231f20" stroke-width="0.25">61.7 (46.4, 77.0)</text>
<text x="413.20" y="818.10" font-size="10.6" textLength="78.16" lengthAdjust="spacingAndGlyphs" stroke="#231f20" stroke-width="0.25">59.3 (44.8, 73.9)</text>
</svg>
</body></html>
